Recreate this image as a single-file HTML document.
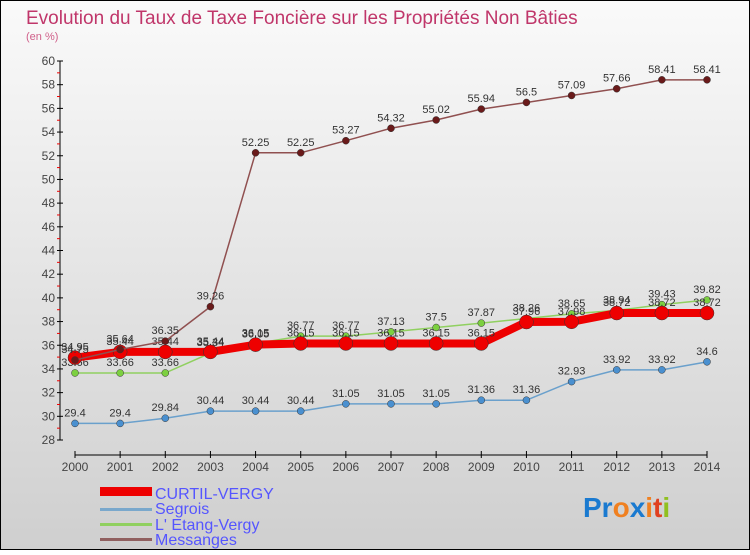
<!DOCTYPE html>
<html><head><meta charset="utf-8"><style>
body{margin:0;width:750px;height:550px;overflow:hidden;font-family:"Liberation Sans",sans-serif}
</style></head><body>
<svg id="c" width="750" height="550" xmlns="http://www.w3.org/2000/svg" font-family="Liberation Sans, sans-serif">
<defs><linearGradient id="bg" x1="0" y1="0" x2="0" y2="1"><stop offset="0" stop-color="#fafafa"/><stop offset="1" stop-color="#cfcfcf"/></linearGradient></defs>
<rect x="0.5" y="0.5" width="749" height="549" fill="url(#bg)" stroke="#000"/>
<text x="26" y="24" font-size="19" fill="#c0366a">Evolution du Taux de Taxe Foncière sur les Propriétés Non Bâties</text>
<text x="26" y="40" font-size="11" fill="#d0608a">(en %)</text>
<g id="axes"></g><g id="series"></g>
<g font-size="16" fill="#5555ff">
<rect x="100" y="487" width="52" height="9" fill="#e00"/><text x="155" y="499">CURTIL-VERGY</text>
<rect x="100" y="508" width="52" height="3" fill="#7aa8cc"/><text x="155" y="514">Segrois</text>
<rect x="100" y="523" width="52" height="3" fill="#90d060"/><text x="155" y="530">L' Etang-Vergy</text>
<rect x="100" y="538" width="52" height="3" fill="#906060"/><text x="155" y="545">Messanges</text>
</g>
<text x="583" y="517" font-size="28" font-weight="bold"><tspan fill="#1a7ad0">Pr</tspan><tspan fill="#f08020">o</tspan><tspan fill="#1a7ad0">x</tspan><tspan fill="#f08020">i</tspan><tspan fill="#e04020">t</tspan><tspan fill="#90c020">i</tspan></text>
</svg>
<script>
const years=[2000,2001,2002,2003,2004,2005,2006,2007,2008,2009,2010,2011,2012,2013,2014];
const yTicks=[28,30,32,34,36,38,40,42,44,46,48,50,52,54,56,58,60];
const curtil=[34.95,35.44,35.44,35.44,36.05,36.15,36.15,36.15,36.15,36.15,37.96,37.98,38.72,38.72,38.72];
const segrois=[29.4,29.4,29.84,30.44,30.44,30.44,31.05,31.05,31.05,31.36,31.36,32.93,33.92,33.92,34.6];
const etang=[33.66,33.66,33.66,35.34,36.15,36.77,36.77,37.13,37.5,37.87,38.26,38.65,38.94,39.43,39.82];
const messanges=[34.75,35.64,36.35,39.26,52.25,52.25,53.27,54.32,55.02,55.94,56.5,57.09,57.66,58.41,58.41];
const NS="http://www.w3.org/2000/svg";
const X=i=>75+i*(707-75)/(years.length-1);
const Y=v=>440-(v-28)*(440-61)/32;
function mk(t,a,p){const e=document.createElementNS(NS,t);for(const k in a)e.setAttribute(k,a[k]);p.appendChild(e);return e;}
const ax=document.getElementById('axes'),sg=document.getElementById('series');
let yl=mk('line',{x1:60,y1:61,x2:60,y2:440,stroke:'#000'},ax);


yTicks.forEach(t=>{const y=Y(t);
 mk('line',{x1:57,y1:y,x2:63,y2:y,stroke:'#000'},ax);
 if(t<60)mk('line',{x1:57,y1:Y(t+1),x2:60,y2:Y(t+1),stroke:'#e00'},ax);
 const tx=mk('text',{x:55,y:y+4,'font-size':12,'text-anchor':'end',fill:'#444'},ax);tx.textContent=t;
 
 });
let xl=mk('line',{x1:75,y1:455,x2:707,y2:455,stroke:'#000'},ax);


years.forEach((yr,i)=>{const x=X(i);mk('line',{x1:x,y1:451,x2:x,y2:458,stroke:'#000'},ax);
 const tx=mk('text',{x:x,y:471,'font-size':12,'text-anchor':'middle',fill:'#444'},ax);tx.textContent=yr;
 
 });
function series(name,d,col,w,r,dot,lab){
 const g=mk('g',{},sg);
 
 
 mk('polyline',{points:d.map((v,i)=>X(i)+','+Y(v)).join(' '),fill:'none',stroke:col,'stroke-width':w,'stroke-linejoin':'round'},g);
 d.forEach((v,i)=>{const c=mk('circle',{cx:X(i),cy:Y(v),r:r,fill:dot,stroke:'#333','stroke-width':0.5},g);
  
  
  const t=mk('text',{x:X(i),y:Y(v)-7,'font-size':11,'text-anchor':'middle',fill:lab},g);t.textContent=v;});
}
series('segrois-series',segrois,'#6aa0cc',1.5,3.5,'#4a90d0','#333');
series('etang-vergy-series',etang,'#90d060',1.5,3.5,'#7cd040','#333');
series('curtil-vergy-series',curtil,'#ee0000',8,7,'#ee0000','#333');
series('messanges-series',messanges,'#905050',1.5,3.5,'#6a1a1a','#333');
</script>
</body></html>
